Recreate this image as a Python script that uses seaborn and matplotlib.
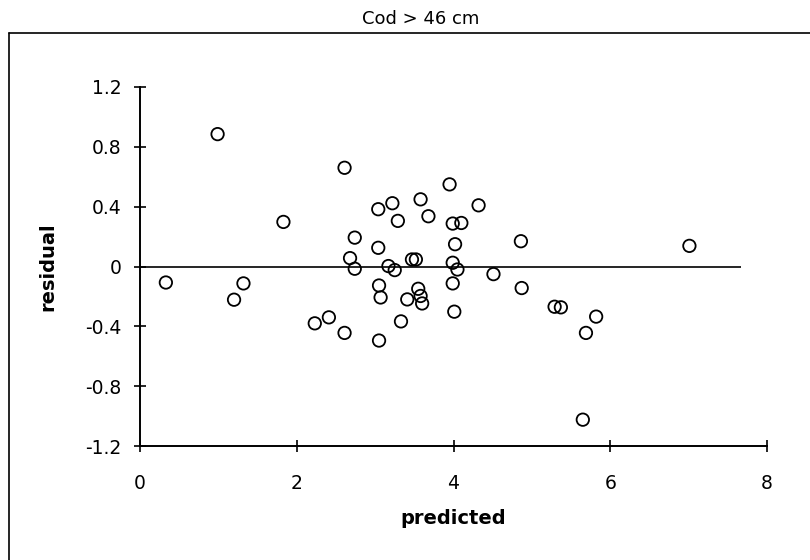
import matplotlib
matplotlib.use("Agg")
import matplotlib.pyplot as plt
from matplotlib.lines import Line2D
import seaborn as sns
import pandas as pd

# Data
predicted = [0.33, 0.99, 1.20, 1.32, 1.83, 2.61, 2.74, 2.68, 2.74,
             2.23, 2.41, 2.61, 3.04, 3.22, 3.58, 3.95, 4.32, 3.29, 3.68,
             3.99, 4.10, 4.02, 3.04, 3.17, 3.25, 3.47, 3.52, 3.99, 4.05,
             4.51, 3.05, 3.07, 3.99, 3.55, 3.58, 3.60, 3.41, 4.01, 3.33,
             3.05, 4.86, 7.01, 4.87, 5.29, 5.37, 5.82, 5.69, 5.65]
residual = [-0.107, 0.885, -0.222, -0.113, 0.298, 0.66, 0.193, 0.056, -0.015,
            -0.38, -0.34, -0.444, 0.383, 0.423, 0.449, 0.549, 0.409, 0.305, 0.336,
            0.287, 0.291, 0.149, 0.125, 0.003, -0.024, 0.047, 0.047, 0.025, -0.02,
            -0.051, -0.127, -0.207, -0.113, -0.149, -0.197, -0.247, -0.22, -0.302, -0.367,
            -0.495, 0.169, 0.138, -0.144, -0.269, -0.273, -0.335, -0.444, -1.024]
x_ticks = [0, 2, 4, 6, 8]
y_ticks = [-1.2, -0.8, -0.4, 0, 0.4, 0.8, 1.2]
y_tick_labels = ["-1.2", "-0.8", "-0.4", "0", "0.4", "0.8", "1.2"]
zero_line_end = 7.67

df = pd.DataFrame({"predicted": predicted, "residual": residual})

sns.set_theme(style="white")
plt.rcParams["font.family"] = ["DejaVu Sans"]
plt.rcParams["text.color"] = "black"
plt.rcParams["axes.labelcolor"] = "black"

W, H = 810, 560
fig = plt.figure(figsize=(W / 100, H / 100), dpi=100)
ax = fig.add_axes([140 / W, 1 - 446 / H, (767 - 140) / W, (446 - 87) / H])

ax.hlines(0, 0, zero_line_end, color="black", linewidth=1.2, zorder=1)
sns.scatterplot(data=df, x="predicted", y="residual", ax=ax, marker="o",
                s=80, facecolors="none", edgecolor="black", linewidth=1.3,
                zorder=3, legend=False)

ax.set_xlim(0, 8)
ax.set_ylim(-1.2, 1.2)
ax.set_xticks(x_ticks)
ax.set_yticks(y_ticks)
ax.set_yticklabels(y_tick_labels)
for s in ["top", "right"]:
    ax.spines[s].set_visible(False)
for s in ["left", "bottom"]:
    ax.spines[s].set_color("black")
    ax.spines[s].set_linewidth(1.4)
ax.tick_params(axis="both", direction="inout", length=9, width=1.2,
               colors="black", labelcolor="black", labelsize=13.5,
               left=True, bottom=True)
ax.tick_params(axis="x", pad=16)
ax.tick_params(axis="y", pad=9)
ax.set_xlabel("predicted", fontsize=14, fontweight="bold", labelpad=11, color="black")
ax.set_ylabel("residual", fontsize=14, fontweight="bold", labelpad=20, color="black")
ax.patch.set_alpha(0)

fig.text(421 / W, 1 - 19 / H, "Cod > 46 cm", ha="center", va="center",
         fontsize=13, color="black")

# chart-area frame
fig.add_artist(Line2D([9 / W, 9 / W], [0, 1 - 33 / H], transform=fig.transFigure,
                      color="black", linewidth=1.2))
fig.add_artist(Line2D([9 / W, 1], [1 - 33 / H, 1 - 33 / H], transform=fig.transFigure,
                      color="black", linewidth=1.2))

fig.savefig("out.png", dpi=100)
